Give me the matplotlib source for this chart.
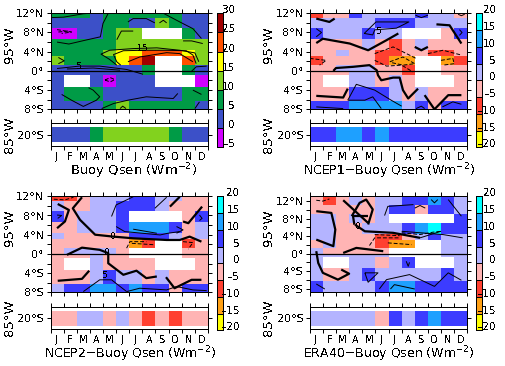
import numpy as np
import matplotlib
matplotlib.use('Agg')
import matplotlib.pyplot as plt
from matplotlib.colors import ListedColormap, BoundaryNorm

n = np.nan
months = ['J', 'F', 'M', 'A', 'M', 'J', 'J', 'A', 'S', 'O', 'N', 'D']
lat_ticks = [12, 8, 4, 0, -4, -8]
lat_labels = ['12°N', '8°N', '4°N', '0°', '4°S', '8°S']

# row edges in degrees, north to south
lat_edges = [12, 11, 9, 6.6, 4.4, 3, 1.2, 0, -0.9, -3.4, -6.3, -8]
lat_edges_era = [13.1, 11.15, 9, 6.9, 4.5, 3.2, 1.3, 0, -0.75, -3.3, -6.2, -8.85]

levels_buoy = [-5, 0, 5, 10, 15, 20, 25, 30]
levels_diff = [-20, -15, -10, -5, 0, 5, 10, 15, 20]
colors_buoy = ['#D000FF', '#3C50C8', '#009B46', '#82D21E', '#FFFF00', '#FF5000', '#A00000']
colors_diff = ['#FFFF00', '#FFA014', '#FF4030', '#FFB4B4', '#B4B4FF', '#3C3CFF', '#1EA0FF', '#00FFFF']

buoy = [[7, 7, 7, 2, 7, 7, 7, 7, 7, 7, 2, 2],
        [2, 2, 2, 2, 7, 7, 2, 2, 12, 7, 2, 2],
        [-2, -2, 2, 2, 7, 12, 12, n, n, n, 7, 2],
        [7, 7, 7, 7, 7, 12, 12, 12, 12, 12, 12, 12],
        [7, 7, 7, 7, 12, 17, 17, 22, 22, 22, 17, 12],
        [12, 7, 7, 7, 7, 17, 22, 27, n, n, 22, 12],
        [2, 2, 2, 2, 2, 2, 2, 7, n, n, 7, 2],
        [2, 2, 2, 2, 2, 2, 2, 7, n, n, 7, 2],
        [2, n, n, 2, -2, 2, 2, 2, n, n, n, -2],
        [2, 7, 7, 7, 2, 2, 2, 2, 2, 2, 7, 7],
        [2, 2, 2, 2, 7, 12, 7, 7, 7, 7, 7, 2]]
buoy_20s = [2, 2, 2, 7, 12, 12, 12, 12, 12, 7, 2, 2]

ncep1 = [[-7, -2, -2, 7, 2, 2, 2, 2, 7, 2, 2, -2],
         [2, 2, 2, 2, 2, 7, 7, 7, 2, 2, 2, 2],
         [7, 2, 2, 2, 7, 2, 2, n, n, n, -2, 7],
         [-2, -2, -2, -2, 2, -2, -7, -2, 2, -2, -2, -2],
         [-2, -2, 2, -2, -2, -7, -7, -2, -2, -7, -7, -2],
         [-7, -2, -2, -2, -2, -7, -12, -12, n, n, -12, -7],
         [-2, -2, 2, 2, 2, -2, -2, -7, n, n, -2, -2],
         [-2, -2, -2, 2, 2, -2, -2, -7, n, n, -2, -2],
         [-2, n, n, 2, 2, -2, 2, -2, n, n, n, -2],
         [-2, -2, -2, 7, 7, 7, 2, -2, 2, -2, -2, -2],
         [7, 7, 7, 12, 12, 12, 12, 2, 7, -2, 7, 7]]
ncep1_20s = [7, 7, 12, 12, 7, 12, 7, 7, 7, 7, 7, 7]

ncep2 = [[-7, -7, -2, 2, 2, 2, 7, 7, 2, 2, -2, -2],
         [2, -2, -2, 2, 2, 7, 7, 7, 2, -2, -2, -2],
         [7, -2, 2, 2, 2, 7, n, n, n, n, -2, 7],
         [-2, -2, 2, 2, 2, 7, 12, 12, 12, 7, -2, 2],
         [2, -2, -2, -2, -2, -2, 7, 7, 7, 2, -2, 2],
         [-2, -2, -2, -2, -2, -2, -12, -7, n, n, -7, -2],
         [-2, 2, 2, 2, 2, -2, n, n, n, n, -2, -2],
         [-2, -2, -2, 2, -2, -2, n, n, n, n, -2, -2],
         [-2, n, n, 2, -2, -2, -2, -2, n, n, n, -2],
         [-2, -2, -2, 2, 7, 2, 2, -2, 2, -2, -2, -2],
         [2, 7, 7, 12, 12, 7, 12, 7, 7, -2, 7, 7]]
ncep2_20s = [-2, -2, 2, 2, -2, 2, -2, -7, -2, -7, -2, -2]

era40 = [[-2, -7, -2, 2, -2, 2, 2, 7, 7, 12, 7, 2],
         [-2, -2, -2, -2, -2, 2, 7, 7, -2, 7, 7, 2],
         [2, 2, -2, 2, -2, 2, n, n, n, n, n, 7],
         [2, 2, -2, -2, 2, 2, 2, 7, 12, 17, 7, 7],
         [2, 2, -2, -2, -2, -7, -7, -2, 2, 7, 2, 2],
         [-2, 2, -2, -2, -2, -7, -12, -12, n, n, 2, 2],
         [2, -2, -2, -2, -2, -2, n, n, n, n, 2, 2],
         [2, 2, 2, 2, 2, 2, n, n, n, n, 2, 2],
         [2, n, n, 2, 2, -2, 2, 7, n, n, n, 2],
         [2, -2, -2, 2, 7, 2, 2, 2, 2, 2, 7, 2],
         [7, 2, 2, 2, 2, 7, 12, 12, 7, 7, 7, 7]]
era40_20s = [2, 2, 2, 2, 2, -2, 7, 2, 7, 12, 7, 7]

# contours as (month position, latitude)
buoy_thin = [
    [(0, 11.1), (1, 11.2), (2.5, 11.9), (3, 12)],
    [(4.4, 12), (4, 9.9), (3.8, 7.1), (2.5, 6.3), (1.4, 5.6), (0.5, 6)],
    [(5.05, 6.5), (5.4, 8.3), (6.3, 8.3)],
    [(11.3, 1.9), (11, 3.75), (9.85, 4.3), (8.1, 4.8), (6.3, 4.65), (4.5, 4.3), (3.85, 3.5), (4.5, 2.4), (5.05, 1.2)],
    [(5.35, 1.2), (5.05, 1.9), (4.8, 3.4), (5.55, 4.2), (7.05, 4.3), (8.85, 4.3), (10.35, 4.2), (10.85, 3.3), (11.1, 1.5)],
    [(5.9, 1.9), (6.8, 2.9), (8.85, 3.8), (9.85, 3.6), (10.85, 1.9)],
    [(0.5, 0.5), (2.2, 1), (3.75, 1), (5.8, 0.3), (7.05, -0.7)],
    [(1.25, 0.4), (3.25, 0.6), (5.3, 0.15)],
    [(10.7, -0.2), (11.1, 0.85), (11.9, 1)],
    [(0.6, 2.8), (1.05, 2.1), (0.6, 1.5)],
    [(8.3, 10), (8.6, 10.55), (8.85, 10)],
    [(5.9, 10.2), (6.3, 10.9), (7.3, 10.9), (7.95, 10)],
    [(8.6, 12), (9.85, 10.2), (10.85, 8.8), (11.5, 6.75)],
    [(10.1, 6.25), (10.75, 6.25), (11.6, 5.7)],
    [(0.85, -4.9), (1.6, -6.1), (2.5, -7.4), (3.5, -6.1), (3.75, -5.4), (3.25, -4), (2.9, -3.5)],
    [(3.9, -7.85), (4.8, -6.8), (5.9, -6.1), (7.3, -5.4), (9.35, -5.75), (9.7, -4.7)],
    [(10.85, -4), (11.5, -4.9)],
    [(11, -7.85), (11.35, -6.45)],
    [(5.3, -7.85), (5.5, -7.35), (5.75, -7.85)]]
buoy_dash = [
    [(0.5, 8.6), (1.6, 8.1), (0.85, 7.8)],
    [(0.6, 8.1), (1.35, 8.3)],
    [(4.15, -1.9), (4.55, -1.4), (4.9, -1.8), (4.55, -2.3), (4.15, -1.9)]]

ncep1_thick = [
    [(0.5, 10.9), (1.5, 10.2), (1.9, 10.9)],
    [(0.5, 5.8), (1, 6.7), (3.05, 5.7), (4.45, 4.3), (5.85, 6.4), (6.75, 7.8)],
    [(1.8, 0), (2, 0.6), (3.3, 0.85), (4.55, 1.2), (5.1, 0.15), (5.2, -0.9), (5.45, -1.95), (6.35, -1.4), (6.85, -1.4), (7.1, -4), (7.5, -5.75), (8.25, -3.7)],
    [(0.5, -5.2), (2.55, -5.55), (2.9, -3.7)],
    [(8.75, -5.05), (9.5, -8), (10.55, -5.05), (11.55, -5.05)],
    [(9.65, 9.7), (10.65, 9.5), (11.55, 5.7)],
    [(8, 5), (8.5, 4.3), (9, 5)]]
ncep1_thin = [
    [(4.15, 7.8), (5.05, 10.2), (7.55, 10.2), (6.6, 8.9), (4.95, 8.55), (4.8, 7.5), (4.15, 7.8)],
    [(2.9, -6.1), (3.55, -2.8), (4.95, -4), (6.2, -6.1), (7, -7.35)],
    [(2.9, -6.1), (4.2, -6.1), (4.8, -5.4), (5.45, -7.85)],
    [(0.5, -7.5), (2.55, -7.85)],
    [(8.05, 11.6), (8.5, 11.1), (9, 11.6)],
    [(0.5, 8.8), (0.9, 8), (0.5, 7.1)],
    [(11.4, 8.6), (11.6, 8), (11.4, 7.4)],
    [(10.1, -7.5), (10.9, -6.45), (11.55, -6.95)],
    [(8.1, -7.85), (8.5, -7.35), (8.75, -7.85)],
    [(11.3, 11.8), (11.55, 11.5), (11.8, 11.8)]]
ncep1_dash = [
    [(4.95, 3.6), (6.35, 5), (8.1, 2.6)],
    [(4.95, 2.2), (5.85, 1), (7, 1.2), (7.85, -0.2)],
    [(9, 3.6), (10.15, 4.3), (11.55, 3.3)],
    [(6.1, 1.9), (7.1, 2.9), (8, 1.5), (7.1, 1.2), (6.2, 1.75)],
    [(10, 2.2), (10.9, 2.6), (11, 1.5), (10.15, 1.2)],
    [(0, 2.6), (1.25, 2.2), (0.75, 1.2)]]

ncep2_thick = [
    [(0.55, 10.4), (1.4, 9.15), (1.1, 6.75), (0.5, 5.35)],
    [(2.4, 11.8), (1.7, 9.5), (2.25, 7.1), (3.4, 4), (4.8, 3.6), (6.3, 3.25), (8.85, 2.9), (9.85, 2.9), (10.6, 3.6), (11.5, 2.55)],
    [(1.25, -0.2), (2.4, 1.3), (3.75, 0.85), (4.4, 0.15), (4.4, -1.95), (5.55, -4.35), (6.55, -3.5), (7.3, -5.05), (8.1, -4.7)],
    [(0.55, -5.6), (2.4, -5.2), (2.95, -3.5)],
    [(8.8, -4.85), (9.45, -7.15), (10.75, -5.4), (11.5, -5.4)],
    [(9.1, 9.85), (9.85, 11.9)],
    [(10.1, 6.75), (10.5, 6.4), (11.55, 9.85)]]
ncep2_thin = [
    [(7.95, 9.5), (8.85, 11.8)],
    [(4.65, 7.8), (5, 10.2), (6.3, 11.9)],
    [(5, 5.7), (5.65, 4.65), (8.35, 3.95), (8.95, 4.3), (9.85, 4.65)],
    [(9.6, 5.7), (10.1, 5), (9.6, 4.3)],
    [(6.3, 5.15), (8.1, 4.3)],
    [(0.5, 8.1), (0.85, 8), (0.55, 7.4)],
    [(11.35, 8.1), (11.55, 7.4), (11.35, 6.95)],
    [(2.5, -7.85), (3.75, -5.4), (4.65, -5.4), (5.8, -7.85)],
    [(5.8, -7.85), (6.8, -7.15), (8.85, -7.5), (9.6, -6.8), (10.85, -7.5), (11.9, -7.65)]]
ncep2_dash = [
    [(5.8, 1.2), (6.05, 2.55), (7.3, 2.55)],
    [(0.25, 11.4), (1.1, 11.25), (1.75, 11.8)],
    [(10.1, 2.55), (10.85, 2.35), (10.5, 1)],
    [(6.2, 2.2), (7.95, 1.9)]]

era40_thick = [
    [(0.5, 9.7), (1.65, 9.3), (1.95, 5.5), (1.8, 1.7), (0.5, 3.2)],
    [(2.55, 0.15), (3.55, 1.3), (5.6, 0.55)],
    [(0.5, 0.55), (0.65, -2.15), (1, -4.4), (2.15, -5.95), (3, -4.6), (2.4, -3.65)],
    [(3.45, 6.6), (4.2, 5.1), (6.35, 4.75), (8.4, 3.6)],
    [(2.55, 12.2), (4.45, 7)],
    [(3.2, 8.55), (3.8, 11.6), (4.3, 12.35), (4.8, 10.1), (4.45, 6.65)],
    [(3.2, 8.55), (4.45, 8.55)],
    [(3.3, 8.55), (3.4, 6.6)]]
era40_thin = [
    [(5.7, 8.7), (5.95, 10.8), (7.9, 11.2)],
    [(10.55, 12.35), (11.55, 8.55)],
    [(9.25, 12.35), (9.5, 11.6), (9.75, 12.35)],
    [(8, 10.4), (8.4, 11), (8.8, 10.4)],
    [(7, 5.1), (10.15, 4.35), (11.65, 3.6)],
    [(8.4, 3.6), (10, 5.1)],
    [(4.2, -4.4), (5.2, -4.4), (4.45, -6.55), (4.2, -4.4)],
    [(5.3, -8.1), (5.85, -5.95), (7.6, -4.8), (9.5, -7.5), (10.55, -4.4), (11.55, -6.1)],
    [(6.15, -8.1), (6.45, -7.1), (8, -8.1)],
    [(0.5, -6.95), (1.15, -8.1)],
    [(7.35, -1.75), (7.5, -2.9), (7.6, -2)]]
era40_dash = [
    [(0.5, 12.2), (1, 12), (1.5, 12.5)],
    [(4.95, 4.35), (6.85, 4.1)],
    [(4.55, 1.85), (4.95, 3.6), (6.85, 3.6)],
    [(5.95, 2.45), (7.75, 2.05)],
    [(7, 4.75), (8.4, 4.35), (9.4, 4.9), (10, 5.1)]]

plt.rcParams['font.family'] = 'DejaVu Sans'
plt.rcParams['text.antialiased'] = False
W, H = 506, 366
fig = plt.figure(figsize=(W / 100, H / 100), dpi=100)


def px_axes(x0, y0, x1, y1):
    return fig.add_axes([x0 / W, 1 - y1 / H, (x1 - x0) / W, (y1 - y0) / H])


def style_ticks(ax):
    ax.tick_params(length=3, width=0.72, pad=1.5, labelsize=8)
    for s in ax.spines.values():
        s.set_linewidth(0.72)


def draw_lines(ax, lines, lw, ls='-'):
    for line in lines:
        xs = [p[0] for p in line]
        ys = [p[1] for p in line]
        ax.plot(xs, ys, color='k', lw=lw, ls=ls, solid_capstyle='butt', dash_capstyle='butt')


def panel(x0, top, x1, strip_top, strip_bot, cb_x, cb_right, values, strip, edges, levels, colors, title, title_x,
          title_size, thick, thin, dash, marks):
    cmap = ListedColormap(colors)
    norm = BoundaryNorm(levels, cmap.N)
    month_x = np.arange(13)

    ax = px_axes(x0, top, x1, 109.3)
    ax.pcolormesh(month_x, edges, np.array(values, dtype=float), cmap=cmap, norm=norm)
    ax.set_xlim(0, 12)
    ax.set_ylim(edges[-1], edges[0])
    ax.axhline(0, color='k', lw=0.9)
    draw_lines(ax, thick, 1.6)
    draw_lines(ax, thin, 0.7)
    draw_lines(ax, dash, 0.7, (0, (4, 2)))
    for mx, my, txt in marks:
        ax.text(mx, my, txt, fontsize=6.5, ha='center', va='center')
    ax.set_xticks(month_x)
    ax.set_xticklabels([])
    ax.set_yticks(lat_ticks)
    ax.set_yticklabels(lat_labels)
    ax.set_yticks(np.arange(-8, 13, 2), minor=True)
    ax.tick_params(which='both', top=True, right=True, bottom=True)
    style_ticks(ax)
    ax.tick_params(which='minor', length=3, width=0.72)

    sx = px_axes(x0, strip_top, x1, strip_bot)
    sx.pcolormesh(month_x, [-21, -19], np.array([strip], dtype=float), cmap=cmap, norm=norm)
    sx.set_xlim(0, 12)
    sx.set_ylim(-21.45, -18.55)
    sx.set_xticks(month_x)
    sx.set_xticklabels([])
    sx.set_xticks(month_x[:-1] + 0.5, minor=True)
    sx.set_xticklabels(months, minor=True, fontsize=7)
    sx.tick_params(axis='x', which='minor', length=0, pad=4)
    sx.set_yticks([-20])
    sx.set_yticklabels(['20°S'])
    sx.tick_params(which='major', top=True, right=True)
    style_ticks(sx)

    fig.text((x0 - 41) / W, 1 - 45 / H, '95°W', rotation=90, fontsize=9.5, ha='center', va='center')
    fig.text((x0 - 41) / W, 1 - 135 / H, '85°W', rotation=90, fontsize=9.5, ha='center', va='center')
    fig.text(title_x / W, 1 - 171 / H, title, fontsize=title_size, ha='center', va='center')

    cb = px_axes(cb_x, 13.3, cb_x + 5.5, 147.3)
    cb.pcolormesh([0, 1], levels, np.array(levels[:-1]).reshape(-1, 1) + 0.5, cmap=cmap, norm=norm,
                  edgecolors='k', linewidth=0.72)
    cb.set_xticks([])
    cb.set_yticks([])
    for s in cb.spines.values():
        s.set_linewidth(0.72)
    for lev in levels:
        cb.annotate(str(lev).replace('-', '\u2013'), (1, lev), xycoords=('axes fraction', 'data'),
                    xytext=(cb_right, 0), textcoords='offset pixels', fontsize=7.5, ha='right', va='baseline',
                    annotation_clip=False)
    return ax, sx


panel(50.5, 13.3, 208, 123.3, 146, 217.3, 12.5, buoy, buoy_20s, lat_edges, levels_buoy, colors_buoy,
      'Buoy Qsen (Wm$^{-2}$)', 134, 9.5, [], buoy_thin, buoy_dash, [(2.2, 1, '5'), (7.05, 4.75, '15')])
panel(309.7, 13.3, 467.3, 123.3, 146, 476.5, 14, ncep1, ncep1_20s, lat_edges, levels_diff, colors_diff,
      'NCEP1\u2212Buoy Qsen (Wm$^{-2}$)', 389, 9, ncep1_thick, ncep1_thin, ncep1_dash, [(5.3, 8.3, '5')])


# lower row is the same layout shifted down by 183 px
def shift(ax):
    pos = ax.get_position()
    ax.set_position([pos.x0, pos.y0 - 183 / H, pos.width, pos.height])


n_before = len(fig.axes)
n_text = len(fig.texts)
panel(50.5, 13.3, 208, 124.3, 146, 217.3, 17, ncep2, ncep2_20s, lat_edges, levels_diff, colors_diff,
      'NCEP2\u2212Buoy Qsen (Wm$^{-2}$)', 130, 9, ncep2_thick, ncep2_thin, ncep2_dash,
      [(4.8, 3.6, '0'), (4.35, 0.3, '0'), (4.15, -4.6, '5')])
panel(309.7, 13.3, 467.3, 124.3, 146, 476.5, 14, era40, era40_20s, lat_edges_era, levels_diff, colors_diff,
      'ERA40\u2212Buoy Qsen (Wm$^{-2}$)', 389, 9, era40_thick, era40_thin, era40_dash, [(3.7, 6.25, '0')])
for a in fig.axes[n_before:]:
    shift(a)
for t in fig.texts[n_text:]:
    x, y = t.get_position()
    t.set_position((x, y - 183 / H))

fig.savefig('out.png', dpi=100)
